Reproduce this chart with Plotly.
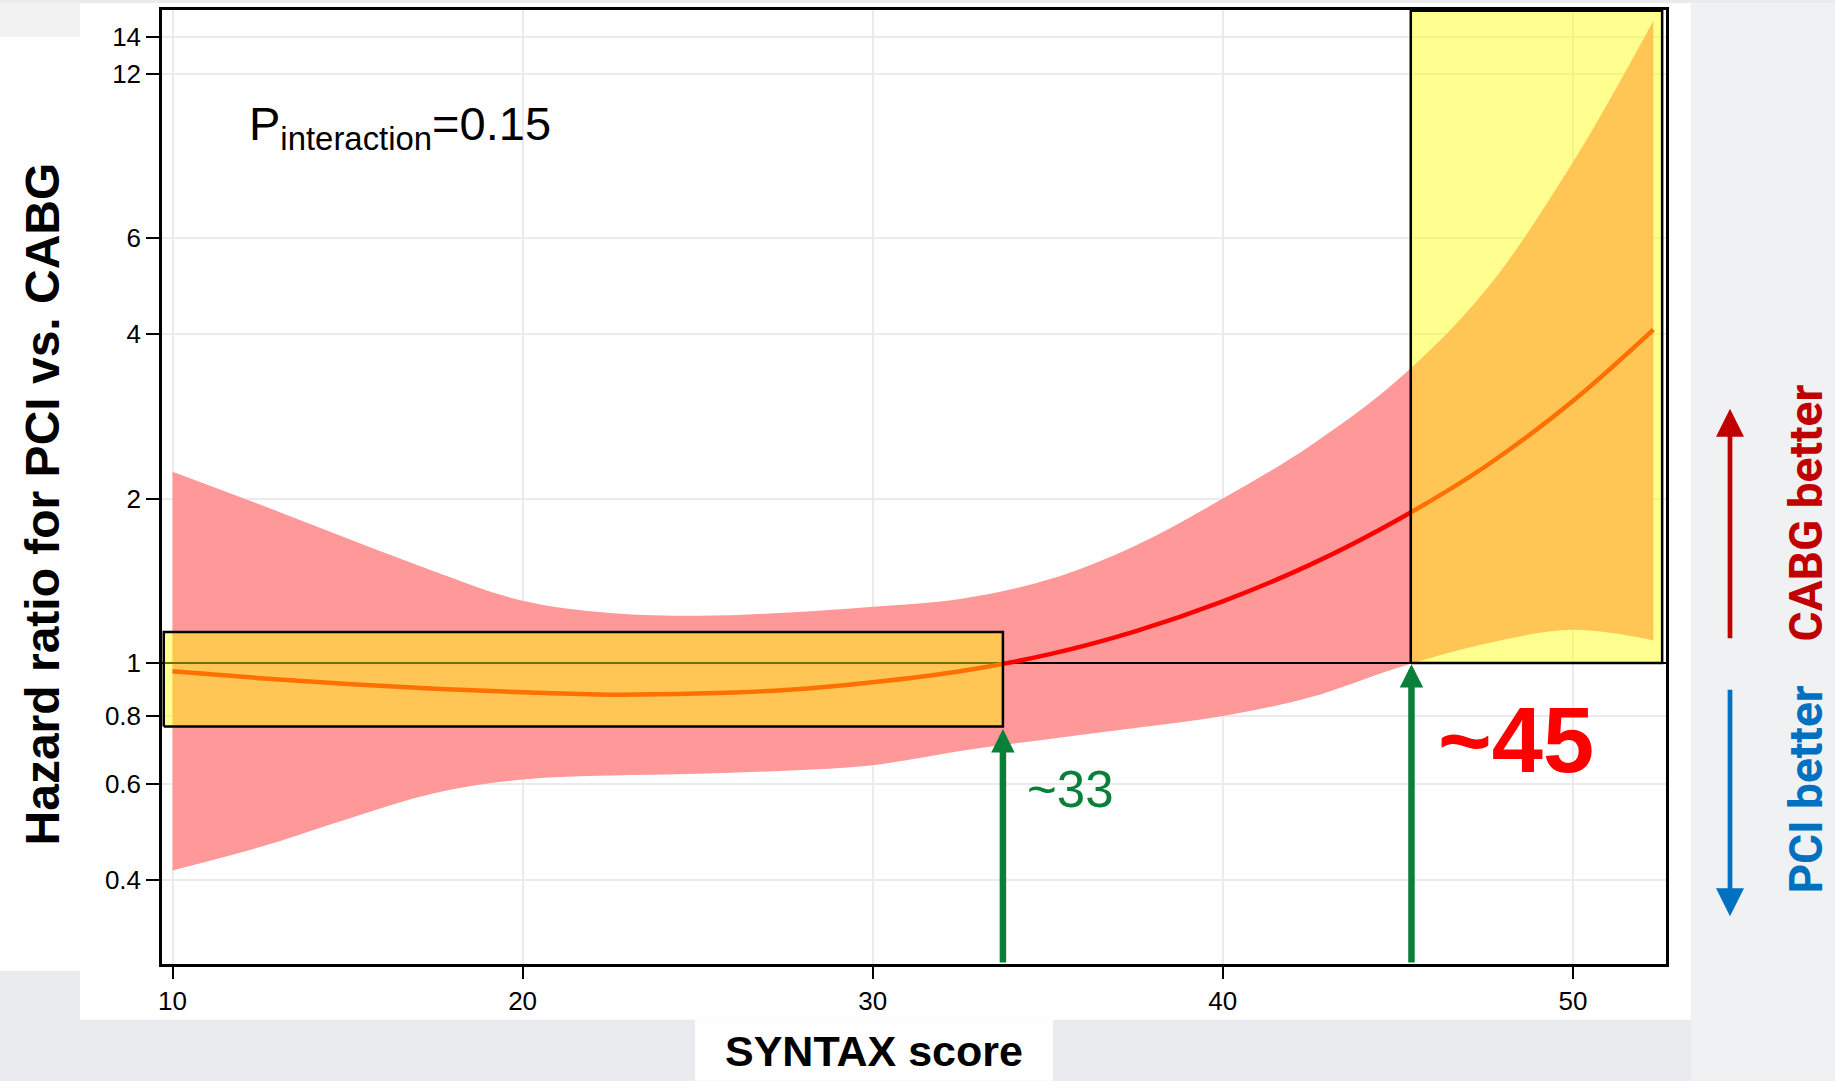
import plotly.graph_objects as go
import math

# ---------------- data ----------------
x_ci = [10, 12.5, 15, 17.5, 20, 22.5, 25, 27.5, 30, 32.5, 35, 37.5, 40, 42.5, 45, 47.5, 50, 52.3]
ci_upper = [2.24, 1.95, 1.69, 1.47, 1.30, 1.235, 1.22, 1.236, 1.268, 1.31, 1.42, 1.64, 2.0, 2.5, 3.30, 4.81, 8.26, 15.0]
ci_lower = [0.417, 0.46, 0.518, 0.578, 0.612, 0.622, 0.627, 0.635, 0.65, 0.69, 0.725, 0.76, 0.80, 0.865, 0.98, 1.085, 1.15, 1.10]

x_fit = [10, 12.5, 15, 17.5, 20, 22.5, 25, 27.5, 30, 32.5, 35, 37.5, 40, 42.5, 45, 47.5, 50, 52.3]
hr_fit = [0.966, 0.938, 0.915, 0.897, 0.884, 0.875, 0.879, 0.892, 0.922, 0.966, 1.036, 1.143, 1.297, 1.514, 1.83, 2.29, 3.02, 4.08]

x_ticks = [10, 20, 30, 40, 50]
y_ticks = [0.4, 0.6, 0.8, 1, 2, 4, 6, 12, 14]
y_tick_text = ["0.4", "0.6", "0.8", "1", "2", "4", "6", "12", "14"]

x_range = [9.7, 52.66]
y_range = [0.281, 15.7]

box1_x = [9.75, 33.72]
box1_y = [0.765, 1.14]
box2_x = [45.37, 52.55]
box2_y = [1.0, 15.65]

cut_low = 33.72   # ~33
cut_high = 45.39  # ~45

# ---------------- layout geometry (pixels) ----------------
W, H = 1835, 1081
PL, PR, PT, PB = 162, 1666, 7, 964


def px(xp):
    return (xp - PL) / (PR - PL)


def py(yp):
    return (PB - yp) / (PB - PT)


FONT = "Liberation Sans, Arial, sans-serif"

fig = go.Figure()

# CI band
fig.add_trace(go.Scatter(x=x_ci, y=ci_lower, mode="lines", line=dict(width=0, shape="spline", color="#ff9999"),
                         showlegend=False, hoverinfo="skip"))
fig.add_trace(go.Scatter(x=x_ci, y=ci_upper, mode="lines", line=dict(width=0, shape="spline", color="#ff9999"),
                         fill="tonexty", fillcolor="#ff9999", showlegend=False, hoverinfo="skip"))

# reference line HR = 1
fig.add_trace(go.Scatter(x=x_range, y=[1, 1], mode="lines", line=dict(color="black", width=2),
                         showlegend=False, hoverinfo="skip"))

# fitted HR curve
fig.add_trace(go.Scatter(x=x_fit, y=hr_fit, mode="lines", line=dict(color="#ff0000", width=4.5, shape="spline"),
                         showlegend=False, hoverinfo="skip"))

# highlight boxes
for bx, by in [(box1_x, box1_y), (box2_x, box2_y)]:
    fig.add_trace(go.Scatter(x=[bx[0], bx[1], bx[1], bx[0], bx[0]],
                             y=[by[0], by[0], by[1], by[1], by[0]],
                             mode="lines", fill="toself", fillcolor="rgba(255,255,0,0.44)",
                             line=dict(color="black", width=2.5), showlegend=False, hoverinfo="skip"))

annotations = []
# green arrows (log axis -> log10 coords for annotations)
for xc, tip in [(cut_low, 0.757), (cut_high, 0.995)]:
    annotations.append(dict(x=xc, y=math.log10(tip), ax=xc, ay=math.log10(y_range[0]),
                            xref="x", yref="y", axref="x", ayref="y", text="",
                            showarrow=True, arrowhead=2, arrowsize=0.72, arrowwidth=6.5,
                            arrowcolor="#08803a", standoff=0, startstandoff=0))

annotations += [
    dict(x=px(1070), y=py(789), xref="paper", yref="paper", text="~33", showarrow=False,
         font=dict(family=FONT, size=51, color="#08803a"), xanchor="center", yanchor="middle"),
    dict(x=px(1516), y=py(739), xref="paper", yref="paper", text="<b>~45</b>", showarrow=False,
         font=dict(family=FONT, size=92, color="#ff0000"), xanchor="center", yanchor="middle"),
    dict(x=px(247), y=py(124), xref="paper", yref="paper", text="P<sub>interaction</sub>=0.15", showarrow=False,
         font=dict(family=FONT, size=47, color="black"), xanchor="left", yanchor="middle"),
    dict(x=px(42), y=py(503), xref="paper", yref="paper", text="<b>Hazard ratio for PCI vs. CABG</b>",
         showarrow=False, textangle=-90, font=dict(family=FONT, size=48, color="black"),
         xanchor="center", yanchor="middle"),
    dict(x=px(874), y=py(1051), xref="paper", yref="paper", text="<b>SYNTAX score</b>", showarrow=False,
         font=dict(family=FONT, size=43, color="black"), xanchor="center", yanchor="middle"),
    dict(x=px(1806), y=py(512), xref="paper", yref="paper", text="<b>CABG better</b>", showarrow=False,
         textangle=-90, font=dict(family="Roboto, " + FONT, size=46, color="#c00000"),
         xanchor="center", yanchor="middle"),
    dict(x=px(1806), y=py(789), xref="paper", yref="paper", text="<b>PCI better</b>", showarrow=False,
         textangle=-90, font=dict(family="Roboto, " + FONT, size=46, color="#0070c0"),
         xanchor="center", yanchor="middle"),
    dict(x=px(1730), y=py(407), xref="paper", yref="paper", text="", showarrow=True, ax=0, ay=231,
         arrowhead=2, arrowsize=1.19, arrowwidth=4.7, arrowcolor="#c00000", standoff=0),
    dict(x=px(1730), y=py(916), xref="paper", yref="paper", text="", showarrow=True, ax=0, ay=-228,
         arrowhead=2, arrowsize=1.19, arrowwidth=4.7, arrowcolor="#0070c0", standoff=0),
]

shapes = [
    dict(type="rect", xref="paper", yref="paper", x0=px(1691), x1=px(W), y0=py(0), y1=py(H),
         fillcolor="#f0f1f3", line=dict(width=0), layer="below"),
    dict(type="rect", xref="paper", yref="paper", x0=px(0), x1=px(80), y0=py(0), y1=py(34),
         fillcolor="#f2f2f2", line=dict(width=0), layer="below"),
    dict(type="rect", xref="paper", yref="paper", x0=px(80), x1=px(1691), y0=py(0), y1=py(1020),
         fillcolor="white", line=dict(width=0), layer="below"),
    dict(type="rect", xref="paper", yref="paper", x0=px(0), x1=px(80), y0=py(34), y1=py(971),
         fillcolor="white", line=dict(width=0), layer="below"),
    dict(type="rect", xref="paper", yref="paper", x0=px(695), x1=px(1053), y0=py(1020), y1=py(H),
         fillcolor="white", line=dict(width=0), layer="below"),
]

fig.update_layout(
    width=W, height=H,
    margin=dict(l=PL, r=W - PR, t=PT, b=H - PB, pad=0),
    paper_bgcolor="#e9ebee",
    plot_bgcolor="white",
    showlegend=False,
    annotations=annotations,
    shapes=shapes,
    xaxis=dict(range=x_range, tickvals=x_ticks, ticktext=[str(v) for v in x_ticks],
               showgrid=True, gridcolor="#ebebeb", gridwidth=1.5, zeroline=False,
               showline=True, linecolor="black", linewidth=2.5, mirror=True,
               ticks="outside", ticklen=12, tickwidth=2, tickcolor="black",
               tickfont=dict(family=FONT, size=26, color="black")),
    yaxis=dict(type="log", range=[math.log10(y_range[0]), math.log10(y_range[1])],
               tickvals=y_ticks, ticktext=y_tick_text,
               showgrid=True, gridcolor="#ebebeb", gridwidth=1.5, zeroline=False,
               showline=True, linecolor="black", linewidth=2.5, mirror=True,
               ticks="outside", ticklen=13, tickwidth=2, tickcolor="black",
               tickfont=dict(family=FONT, size=26, color="black")),
)

fig.write_html("out.html", config={"displayModeBar": False},
               post_script="document.body.style.margin='0';document.body.style.padding='0';"
                           "document.body.style.overflow='hidden';")
